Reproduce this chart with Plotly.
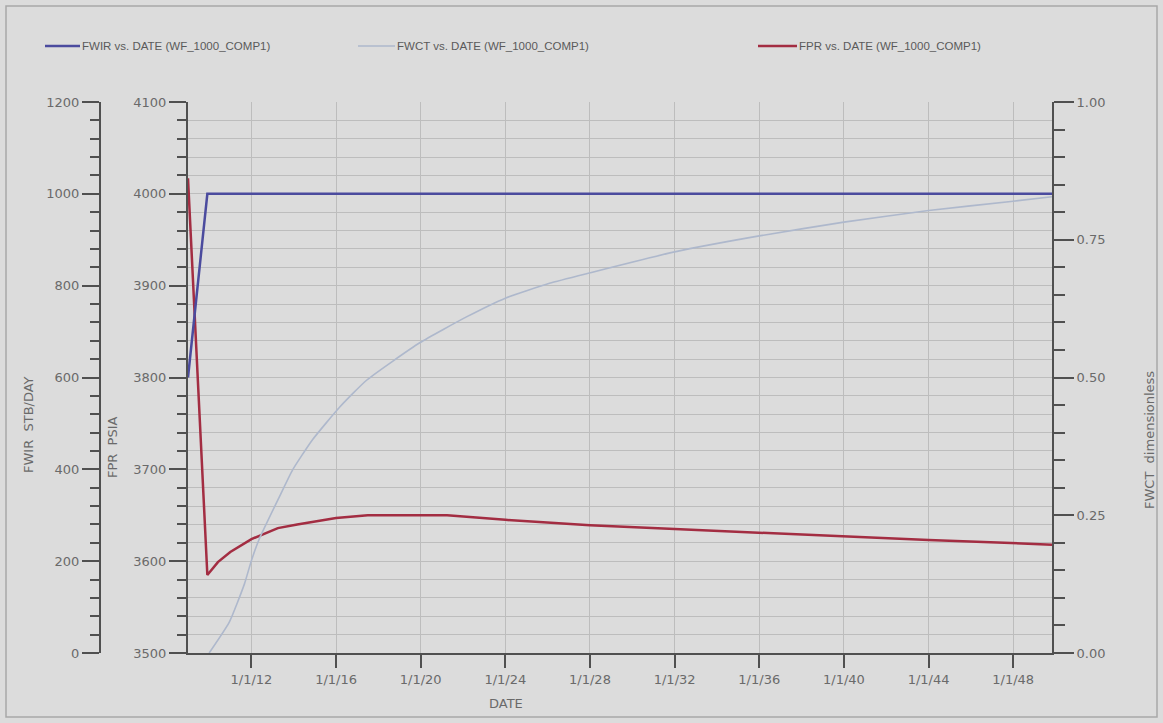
import plotly.graph_objects as go

W, H = 1163, 723

# ---------------- data ----------------
fwir_dates = ["2009-01-01", "2009-12-01", "2049-11-01"]
fwir_vals = [600, 1000, 1000]

fpr_dates = ["2009-01-01", "2009-12-01", "2010-06-01", "2011-01-01", "2012-01-01",
             "2013-04-01", "2014-03-01", "2016-01-01", "2017-07-01", "2021-04-01",
             "2024-01-01", "2028-01-01", "2032-01-01", "2036-01-01", "2040-01-01",
             "2044-01-01", "2049-11-01"]
fpr_vals = [4017, 3585, 3599, 3610, 3624,
            3636, 3640, 3647, 3650, 3650,
            3645, 3639, 3635, 3631, 3627,
            3623, 3618]

fwct_dates = ["2010-01-01", "2010-12-15", "2011-09-01", "2012-01-01", "2012-05-15",
              "2013-04-25", "2013-12-10", "2014-11-20", "2016-03-01", "2017-06-10",
              "2019-12-15", "2022-03-01", "2024-01-01", "2026-02-01", "2028-01-01",
              "2032-01-01", "2036-01-01", "2040-01-01", "2044-01-01", "2048-01-01",
              "2049-11-01"]
fwct_vals = [0.0, 0.056, 0.125, 0.168, 0.207,
             0.283, 0.332, 0.387, 0.446, 0.495,
             0.563, 0.61, 0.644, 0.671, 0.69,
             0.728, 0.757, 0.782, 0.803, 0.82,
             0.828]

xtick_vals = ["2012-01-01", "2016-01-01", "2020-01-01", "2024-01-01", "2028-01-01",
              "2032-01-01", "2036-01-01", "2040-01-01", "2044-01-01", "2048-01-01"]
xtick_text = ["1/1/12", "1/1/16", "1/1/20", "1/1/24", "1/1/28",
              "1/1/32", "1/1/36", "1/1/40", "1/1/44", "1/1/48"]

series_names = ["FWIR vs. DATE (WF_1000_COMP1)",
                "FWCT vs. DATE (WF_1000_COMP1)",
                "FPR vs. DATE (WF_1000_COMP1)"]

# ---------------- style ----------------
C_FWIR = "#4b4b9e"
C_FWCT = "#aeb8cc"
C_FPR = "#a32d42"
BG = "#dcdcdc"
GRID = "#bdbdbd"
AXC = "#505050"
TXT = "#6a6a6a"
TICKFONT = dict(family="DejaVu Sans", size=13, color=TXT)


def px(x):
    return x / W


def py(y):
    return 1 - y / H


fig = go.Figure()
fig.add_trace(go.Scatter(x=fwir_dates, y=fwir_vals, mode="lines", yaxis="y2",
                         line=dict(color=C_FWIR, width=2.5), name=series_names[0]))
fig.add_trace(go.Scatter(x=fwct_dates, y=fwct_vals, mode="lines", yaxis="y3",
                         line=dict(color=C_FWCT, width=1.6, shape="spline", smoothing=0.5),
                         name=series_names[1]))
fig.add_trace(go.Scatter(x=fpr_dates, y=fpr_vals, mode="lines", yaxis="y",
                         line=dict(color=C_FPR, width=2.5), name=series_names[2]))

x0, x1 = 188, 1052
y_top, y_bot = 102, 653

fig.update_layout(
    width=W, height=H,
    margin=dict(l=0, r=0, t=0, b=0),
    paper_bgcolor=BG, plot_bgcolor=BG,
    showlegend=False,
    xaxis=dict(
        domain=[px(x0), px(x1)], type="date",
        range=["2009-01-01", "2049-11-01"],
        tickvals=xtick_vals, ticktext=xtick_text,
        ticks="outside", ticklen=13, tickwidth=2, tickcolor=AXC,
        showline=True, linecolor=AXC, linewidth=2,
        showgrid=True, gridcolor=GRID, gridwidth=1,
        zeroline=False, tickfont=TICKFONT, automargin=False,
    ),
    yaxis=dict(
        domain=[py(y_bot), py(y_top)],
        range=[3500, 4100], dtick=100, tick0=3500,
        ticks="outside", ticklen=17, tickwidth=2, tickcolor=AXC,
        showline=True, linecolor=AXC, linewidth=2,
        showgrid=True, gridcolor=GRID, gridwidth=1, zeroline=False,
        minor=dict(dtick=20, ticks="outside", ticklen=9, tickwidth=1.5, tickcolor=AXC,
                   showgrid=True, gridcolor=GRID, gridwidth=1),
        tickfont=TICKFONT, automargin=False,
    ),
    yaxis2=dict(
        overlaying="y", anchor="free", position=px(100), side="left",
        range=[0, 1200], dtick=200, tick0=0,
        ticks="outside", ticklen=17, tickwidth=2, tickcolor=AXC,
        showline=True, linecolor=AXC, linewidth=2,
        showgrid=False, zeroline=False,
        minor=dict(dtick=40, ticks="outside", ticklen=9, tickwidth=1.5, tickcolor=AXC,
                   showgrid=False),
        tickfont=TICKFONT, automargin=False,
    ),
    yaxis3=dict(
        overlaying="y", anchor="x", side="right",
        range=[0, 1], dtick=0.25, tick0=0, tickformat=".2f",
        ticks="outside", ticklen=20, tickwidth=2, tickcolor=AXC,
        showline=True, linecolor=AXC, linewidth=2,
        showgrid=False, zeroline=False,
        minor=dict(dtick=0.05, ticks="outside", ticklen=11, tickwidth=1.5, tickcolor=AXC,
                   showgrid=False),
        tickfont=TICKFONT, automargin=False,
    ),
)

# axis titles as annotations
TITLEFONT = dict(family="DejaVu Sans", size=13, color=TXT)
ann = [
    dict(text="FWIR  STB/DAY", x=px(28), y=py(425), textangle=-90),
    dict(text="FPR  PSIA", x=px(112), y=py(447), textangle=-90),
    dict(text="FWCT  dimensionless", x=px(1150), y=py(440), textangle=-90),
    dict(text="DATE", x=px(506), y=py(703), textangle=0),
]
for a in ann:
    fig.add_annotation(xref="paper", yref="paper", showarrow=False,
                       xanchor="center", yanchor="middle", font=TITLEFONT, **a)

# custom legend
leg = [(45, 80, C_FWIR, 2.5), (358, 395, C_FWCT, 1.6), (758, 797, C_FPR, 2.5)]
for (lx0, lx1, col, w), name in zip(leg, series_names):
    fig.add_shape(type="line", xref="paper", yref="paper",
                  x0=px(lx0), x1=px(lx1), y0=py(46), y1=py(46),
                  line=dict(color=col, width=w))
    fig.add_annotation(xref="paper", yref="paper", showarrow=False,
                       x=px(lx1), y=py(46), xanchor="left", yanchor="middle",
                       text=name, font=dict(family="Liberation Sans", size=11.5, color="#5a5a5a"))

# outer frame
fig.add_shape(type="rect", xref="paper", yref="paper",
              x0=px(6), x1=px(1157), y0=py(717), y1=py(6),
              line=dict(color="#a8a8a8", width=1.5), layer="below")

fig.write_html("out.html", config={"displayModeBar": False},
               post_script="document.body.style.margin='0';document.body.style.overflow='hidden';")
